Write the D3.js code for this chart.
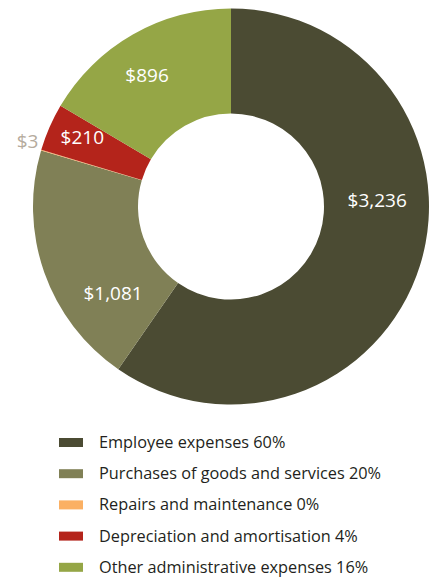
<!DOCTYPE html>
<html>
<head>
<meta charset="utf-8">
<script src="https://cdn.jsdelivr.net/npm/d3@7"></script>
<style>
  html, body { margin: 0; padding: 0; background: #ffffff; }
  svg { display: block; }
</style>
</head>
<body>
<svg id="chart" width="435" height="579"></svg>
<script>
// Expense categories, drawn clockwise from 12 o'clock
const categories = [
  "Employee expenses",
  "Purchases of goods and services",
  "Repairs and maintenance",
  "Depreciation and amortisation",
  "Other administrative expenses"
];
// Amounts in $ thousands
const values = [3236, 1081, 3, 210, 896];
// Share of total shown in the legend
const sharePercent = [60, 20, 0, 4, 16];
const colours = ["#4b4b33", "#808056", "#fbb063", "#b4241b", "#95a646"];

const cx = 231, cy = 206.5;
const outerR = 198, innerR = 93;
const labelR = 150;
// Per-slice label adjustments from the centroid on the label ring
const labelShift = [[3, -51], [23.5, 36.6], [-59.7, -22.4], [-11.2, -9.5], [-9.6, -0.7]];
const labelFill = ["#ffffff", "#ffffff", "#b5ab9d", "#ffffff", "#ffffff"];

const data = categories.map((c, i) => ({ name: c, value: values[i], pct: sharePercent[i], i }));

const svg = d3.select("#chart");

const pie = d3.pie().value(d => d.value).sort(null);
const arcs = pie(data);

const arc = d3.arc().innerRadius(innerR).outerRadius(outerR);
const labelArc = d3.arc().innerRadius(labelR).outerRadius(labelR);

const g = svg.append("g").attr("transform", `translate(${cx},${cy})`);

g.selectAll("path.slice")
  .data(arcs)
  .join("path")
  .attr("class", "slice")
  .attr("d", arc)
  .attr("fill", d => colours[d.data.i]);

const fmt = d3.format("$,");

g.selectAll("text.value")
  .data(arcs)
  .join("text")
  .attr("class", "value")
  .attr("x", d => labelArc.centroid(d)[0] + labelShift[d.data.i][0])
  .attr("y", d => labelArc.centroid(d)[1] + labelShift[d.data.i][1])
  .attr("dy", "0.36em")
  .attr("text-anchor", "middle")
  .attr("font-family", "'Open Sans', sans-serif")
  .attr("font-size", 19)
  .attr("fill", d => labelFill[d.data.i])
  .text(d => fmt(d.data.value));

// Legend
const legendY = d3.scaleLinear().domain([0, categories.length - 1]).range([442.5, 567.3]);

const legend = svg.append("g")
  .selectAll("g")
  .data(data)
  .join("g")
  .attr("transform", d => `translate(59,${legendY(d.i)})`);

legend.append("rect")
  .attr("x", 0)
  .attr("y", -4.5)
  .attr("width", 24)
  .attr("height", 9)
  .attr("fill", d => colours[d.i]);

legend.append("text")
  .attr("x", 40)
  .attr("y", 5.5)
  .attr("font-family", "'Open Sans', sans-serif")
  .attr("font-size", 16.3)
  .attr("fill", "#231f20")
  .text(d => `${d.name} ${d.pct}%`);
</script>
</body>
</html>
